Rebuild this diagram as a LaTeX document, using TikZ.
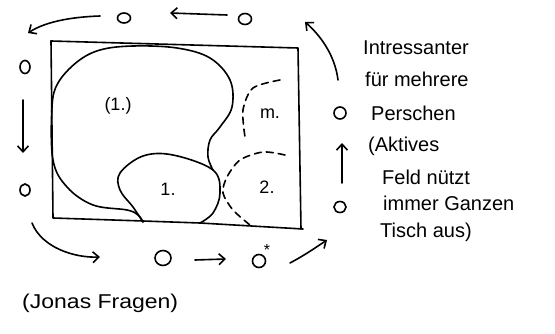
\documentclass[tikz,border=0pt]{standalone}
\usepackage{fontspec}
\setmainfont{Liberation Sans}
\usetikzlibrary{arrows.meta,shapes.geometric}
\tikzset{
  ink/.style={line width=1.6pt, line cap=round, line join=round},
  arr/.style={ink, -{Straight Barb[length=6pt,width=11pt]}},
  person/.style={draw, line width=1.6pt, ellipse, inner sep=0pt, minimum width=11pt, minimum height=10pt},
  bigperson/.style={person, minimum width=16pt, minimum height=15pt},
  note/.style={anchor=west, inner sep=0pt, font=\fontsize{20}{20}\selectfont},
  lbl/.style={inner sep=0pt, font=\fontsize{18}{18}\selectfont}
}
\begin{document}
\begin{tikzpicture}[x=1pt,y=-1pt]
\useasboundingbox (0,0) rectangle (555,334);
% table
\draw[ink] (51,41) -- (298,48) -- (301,229);
\draw[ink] (51,41) -- (53,218) -- (143,221) -- (200,223) -- (303,229);
% big blob (1.)
\draw[ink] plot[smooth, tension=0.6] coordinates {(143,222) (138,215) (127,210) (93,205) (67,187) (53,160) (52,107) (58,83) (77,62) (100,50) (133,46) (177,48) (210,58) (230,80) (232,107) (220,127) (210,140) (208,157) (213,170)};
% small blob 1.
\draw[ink] plot[smooth, tension=0.6] coordinates {(143,222) (133,207) (120,190) (120,173) (143,156) (173,155) (213,170) (220,193) (213,213) (200,223)};
% dashed areas
\draw[ink, dash pattern=on 7pt off 5pt] plot[smooth] coordinates {(280,80) (253,88) (243,110) (245,137)};
\draw[ink, dash pattern=on 7pt off 5pt] plot[smooth] coordinates {(285,155) (263,152) (240,160) (227,177) (223,193) (233,210) (250,225)};
% labels
\node[lbl] (l1) at (118,106) {(1.)};
\node[lbl] (lm) at (270,114) {m.};
\node[lbl] (l2) at (168,189) {1.};
\node[lbl] (l3) at (267,187) {2.};
% persons
\node[person, minimum width=13pt, minimum height=10pt] (p1) at (124,18) {};
\node[person, minimum width=13pt, minimum height=11pt] (p2) at (245,19) {};
\node[person, minimum width=10pt, minimum height=13pt] (p3) at (25,67) {};
\node[person, minimum width=10pt, minimum height=12pt] (p4) at (25,190) {};
\node[bigperson] (p5) at (163,258) {};
\node[person, minimum width=13pt, minimum height=13pt] (p6) at (259,261) {};
\node[inner sep=0pt, font=\fontsize{16}{16}\selectfont] (star) at (267,250) {*};
\node[person, minimum width=12pt, minimum height=12pt] (p7) at (340,113) {};
\node[person, minimum width=12pt, minimum height=11pt] (p8) at (340,207) {};
% connector end points
\coordinate (a1s) at (227,15); \coordinate (a1e) at (170,13);
\coordinate (a2s) at (100,16); \coordinate (a2e) at (28,33);
\coordinate (a3s) at (23,100); \coordinate (a3e) at (23,153);
\coordinate (a4s) at (32,223); \coordinate (a4e) at (100,257);
\coordinate (a5s) at (195,260); \coordinate (a5e) at (226,259);
\coordinate (a6s) at (290,263); \coordinate (a6e) at (327,240);
\coordinate (a7s) at (342,183); \coordinate (a7e) at (342,143);
\coordinate (a8s) at (338,80); \coordinate (a8e) at (305,22);
\draw[arr] (a1s) -- (a1e);
\draw[arr] (a2s) .. controls (70,17) and (45,22) .. (a2e);
\draw[arr] (a3s) -- (a3e);
\draw[arr] (a4s) .. controls (42,248) and (75,258) .. (a4e);
\draw[arr] (a5s) -- (a5e);
\draw[arr] (a6s) .. controls (305,255) and (315,248) .. (a6e);
\draw[arr] (a7s) -- (a7e);
\draw[arr] (a8s) .. controls (335,55) and (320,35) .. (a8e);
% notes
\node[note] (t1) at (363,48) {Intressanter};
\node[note] (t2) at (365,79) {für mehrere};
\node[note] (t3) at (371,113) {Perschen};
\node[note] (t4) at (368,146) {(Aktives};
\node[note] (t5) at (382,177) {Feld nützt};
\node[note] (t6) at (383,203) {immer Ganzen};
\node[note] (t7) at (380,232) {Tisch aus)};
\node[note, xscale=1.15] (t8) at (22,303) {(Jonas Fragen)};
\end{tikzpicture}
\end{document}
